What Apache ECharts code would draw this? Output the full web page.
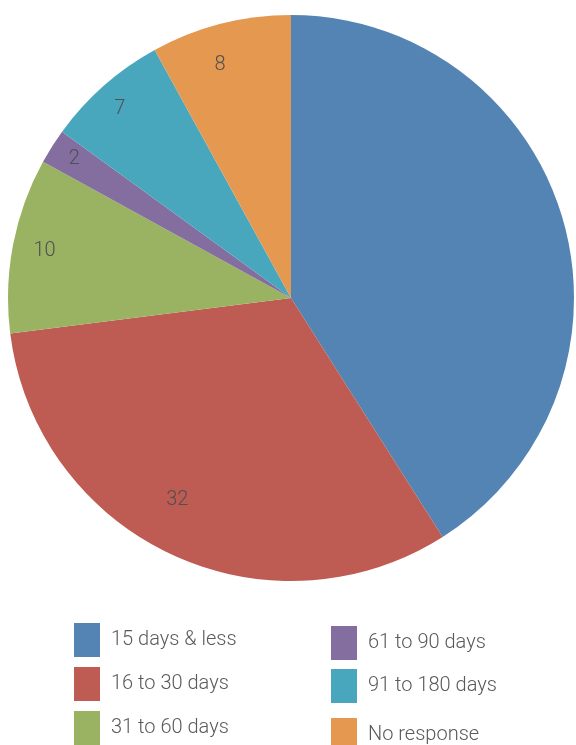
<!DOCTYPE html>
<html>
<head>
<meta charset="utf-8">
<script src="https://cdn.jsdelivr.net/npm/echarts@6/dist/echarts.min.js"></script>
<style>html,body{margin:0;padding:0;background:#fff}#c{width:576px;height:745px}</style>
</head>
<body>
<div id="c"></div>
<script>
var categories = ['15 days & less', '16 to 30 days', '31 to 60 days', '61 to 90 days', '91 to 180 days', 'No response'];
var values = [41, 32, 10, 2, 7, 8];
var showLabel = [false, true, true, true, true, true];

var colors = ['#5384B4', '#BE5B52', '#9AB362', '#846EA0', '#49A7BD', '#E5984F'];
var labelOffsets = [[0,0],[-6,-27],[2,0],[-3,-3],[-4,1],[-8,12]];
var legendPos = [[74,623],[74,667],[74,711],[331,626],[331,669],[331,718]];
var FONT = 'Roboto, "Liberation Sans", sans-serif';

var pieData = categories.map(function (c, i) {
  return { name: c, value: values[i], itemStyle: { color: colors[i] } };
});
var labelData = categories.map(function (c, i) {
  return {
    name: c, value: values[i],
    itemStyle: { color: 'rgba(0,0,0,0)' },
    label: { show: showLabel[i], offset: labelOffsets[i] }
  };
});

var legends = categories.map(function (c, i) {
  return {
    orient: 'vertical', icon: 'rect', itemWidth: 26, itemHeight: 34, itemGap: 0,
    selectedMode: false, padding: 0,
    left: legendPos[i][0], top: legendPos[i][1], data: [c],
    textStyle: { fontFamily: FONT, fontSize: 20, color: '#5a5a5a', fontWeight: 300, padding: [2,0,0,6] }
  };
});

var chart = echarts.init(document.getElementById('c'), null, { renderer: 'canvas' });
chart.setOption({
  animation: false,
  color: colors,
  legend: legends,
  series: [
    {
      type: 'pie', center: [291, 298], radius: 283, startAngle: 90, clockwise: true,
      silent: true, label: { show: false }, labelLine: { show: false },
      data: pieData
    },
    {
      type: 'pie', center: [291, 298], radius: [217, 283], startAngle: 90, clockwise: true,
      silent: true, legendHoverLink: false,
      label: { position: 'inside', formatter: '{c}', fontFamily: FONT, fontSize: 20, color: '#505050', fontWeight: 300 },
      labelLine: { show: false },
      data: labelData
    }
  ]
});
</script>
</body>
</html>
